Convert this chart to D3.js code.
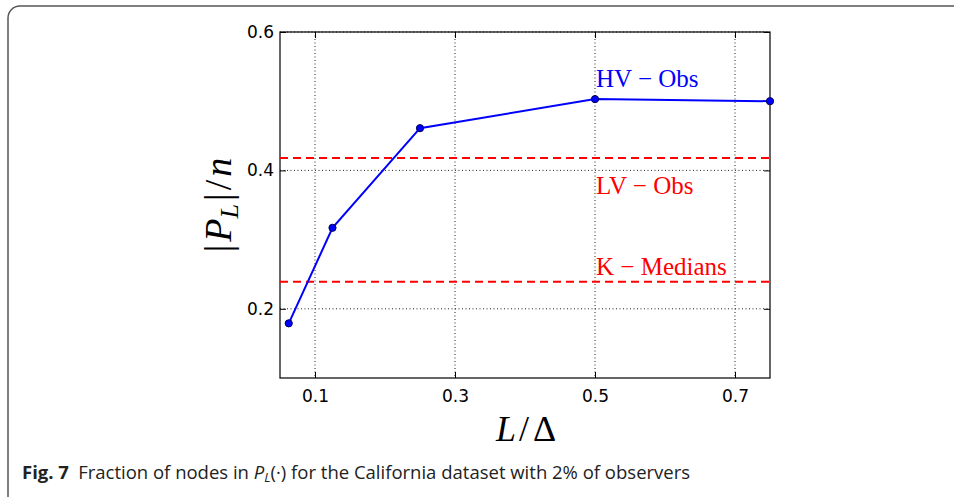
<!DOCTYPE html>
<html>
<head>
<meta charset="utf-8">
<script src="https://cdn.jsdelivr.net/npm/d3@7"></script>
<style>
  body { margin: 0; background: #fff; }
  svg { display: block; }
</style>
</head>
<body>
<div id="chart"></div>
<script>
// data
var ratios = [0.0625, 0.125, 0.25, 0.5, 0.75];
var hvObs = [0.179, 0.317, 0.461, 0.503, 0.500];
var baselineNames = ["LV \u2212 Obs", "K \u2212 Medians"];
var baselineValues = [0.418, 0.239];
var xTicks = [0.1, 0.3, 0.5, 0.7];
var yTicks = [0.2, 0.4, 0.6];

var vWidth = 954, vHeight = 497;
var vMargin = { mTop: 32, mRight: 184, mBottom: 119, mLeft: 280 };
var pw = vWidth - vMargin.mLeft - vMargin.mRight,
    ph = vHeight - vMargin.mTop - vMargin.mBottom;

var svg = d3.select("#chart").append("svg")
    .attr("width", vWidth)
    .attr("height", vHeight);

// figure frame (rounded box running off the page)
svg.append("rect")
    .attr("x", 8).attr("y", 6)
    .attr("width", 980).attr("height", 520)
    .attr("rx", 12)
    .attr("fill", "none")
    .attr("stroke", "#555")
    .attr("stroke-width", 1.5);

var g = svg.append("g")
    .attr("transform", "translate(" + vMargin.mLeft + "," + vMargin.mTop + ")");

var x = d3.scaleLinear().domain([0.05, 0.75]).range([0, pw]);
var y = d3.scaleLinear().domain([0.1, 0.6]).range([ph, 0]);

// dotted grid
g.selectAll(".gx").data(xTicks).enter().append("line")
    .attr("x1", function (d) { return x(d); })
    .attr("x2", function (d) { return x(d); })
    .attr("y1", 0).attr("y2", ph)
    .attr("stroke", "#222").attr("stroke-width", 1)
    .attr("stroke-dasharray", "1,2.5");
g.selectAll(".gy").data(yTicks).enter().append("line")
    .attr("x1", 0).attr("x2", pw)
    .attr("y1", function (d) { return y(d); })
    .attr("y2", function (d) { return y(d); })
    .attr("stroke", "#222").attr("stroke-width", 1)
    .attr("stroke-dasharray", "1,2.5");

// axes, ticks pointing inward like matplotlib classic
function styleAxis(sel) {
    sel.select(".domain").remove();
    sel.selectAll(".tick line").attr("stroke", "#000").attr("stroke-width", 1);
    sel.selectAll("text")
        .attr("font-family", "DejaVu Sans, sans-serif")
        .attr("font-size", 17)
        .attr("fill", "#000");
}
g.append("g")
    .attr("transform", "translate(0," + ph + ")")
    .call(d3.axisBottom(x).tickValues(xTicks).tickFormat(d3.format(".1f"))
        .tickSizeInner(-6).tickSizeOuter(0).tickPadding(12))
    .call(styleAxis);
g.append("g")
    .call(d3.axisTop(x).tickValues(xTicks).tickFormat("")
        .tickSizeInner(-6).tickSizeOuter(0))
    .call(styleAxis);
g.append("g")
    .call(d3.axisLeft(y).tickValues(yTicks).tickFormat(d3.format(".1f"))
        .tickSizeInner(-6).tickSizeOuter(0).tickPadding(6))
    .call(styleAxis);
g.append("g")
    .attr("transform", "translate(" + pw + ",0)")
    .call(d3.axisRight(y).tickValues(yTicks).tickFormat("")
        .tickSizeInner(-6).tickSizeOuter(0))
    .call(styleAxis);

g.append("rect")
    .attr("width", pw).attr("height", ph)
    .attr("fill", "none").attr("stroke", "#000").attr("stroke-width", 1.2);

// baselines
g.selectAll(".base").data(baselineValues).enter().append("line")
    .attr("x1", 0).attr("x2", pw)
    .attr("y1", function (d) { return y(d); })
    .attr("y2", function (d) { return y(d); })
    .attr("stroke", "#ff0000").attr("stroke-width", 2)
    .attr("stroke-dasharray", "8,5");

// main series
var pts = ratios.map(function (r, i) { return [r, hvObs[i]]; });
g.append("path")
    .datum(pts)
    .attr("fill", "none")
    .attr("stroke", "#0000ff")
    .attr("stroke-width", 2)
    .attr("d", d3.line()
        .x(function (d) { return x(d[0]); })
        .y(function (d) { return y(d[1]); }));
g.selectAll(".pt").data(pts).enter().append("circle")
    .attr("cx", function (d) { return x(d[0]); })
    .attr("cy", function (d) { return y(d[1]); })
    .attr("r", 3.6)
    .attr("fill", "#0000ff")
    .attr("stroke", "#000050")
    .attr("stroke-width", 1);

// annotations
var serif = "Liberation Serif, serif";
g.append("text")
    .attr("x", x(0.5) + 1).attr("y", y(hvObs[3]) - 12)
    .attr("font-family", serif).attr("font-size", 25)
    .attr("fill", "#0000ff")
    .text("HV \u2212 Obs");
g.selectAll(".blab").data(baselineValues).enter().append("text")
    .attr("x", x(0.5) + 1)
    .attr("y", function (d, i) { return i === 0 ? y(d) + 36 : y(d) - 7; })
    .attr("font-family", serif).attr("font-size", 25)
    .attr("fill", "#ff0000")
    .text(function (d, i) { return baselineNames[i]; });

// axis titles
var xl = svg.append("text")
    .attr("x", 526).attr("y", 441)
    .attr("text-anchor", "middle")
    .attr("font-family", serif)
    .attr("font-size", 36);
xl.append("tspan").attr("font-style", "italic").text("L");
xl.append("tspan").attr("dx", 3).text("/");
xl.append("tspan").attr("dx", 4).text("\u0394");

var yl = svg.append("text")
    .attr("transform", "translate(231,205) rotate(-90)")
    .attr("text-anchor", "middle")
    .attr("font-family", serif)
    .attr("font-size", 38);
yl.append("tspan").text("|");
yl.append("tspan").attr("dx", 3).attr("font-style", "italic").text("P");
yl.append("tspan").attr("font-style", "italic").attr("font-size", 26).attr("dy", 7).text("L");
yl.append("tspan").attr("dy", -7).attr("dx", 3).text("|");
yl.append("tspan").attr("dx", 3).text("/");
yl.append("tspan").attr("dx", 3).attr("font-style", "italic").text("n");

// caption
var cap = svg.append("text")
    .attr("x", 22).attr("y", 479)
    .attr("font-family", "Open Sans, sans-serif")
    .attr("font-size", 18.5)
    .attr("fill", "#222");
cap.append("tspan").attr("font-weight", "bold").text("Fig. 7");
cap.append("tspan").text("\u2002Fraction of nodes in ");
cap.append("tspan").attr("font-style", "italic").text("P");
cap.append("tspan").attr("font-style", "italic").attr("font-size", 13).attr("dy", 3).text("L");
cap.append("tspan").attr("dy", -3).text("(\u00b7) for the California dataset with 2% of observers");
</script>
</body>
</html>
